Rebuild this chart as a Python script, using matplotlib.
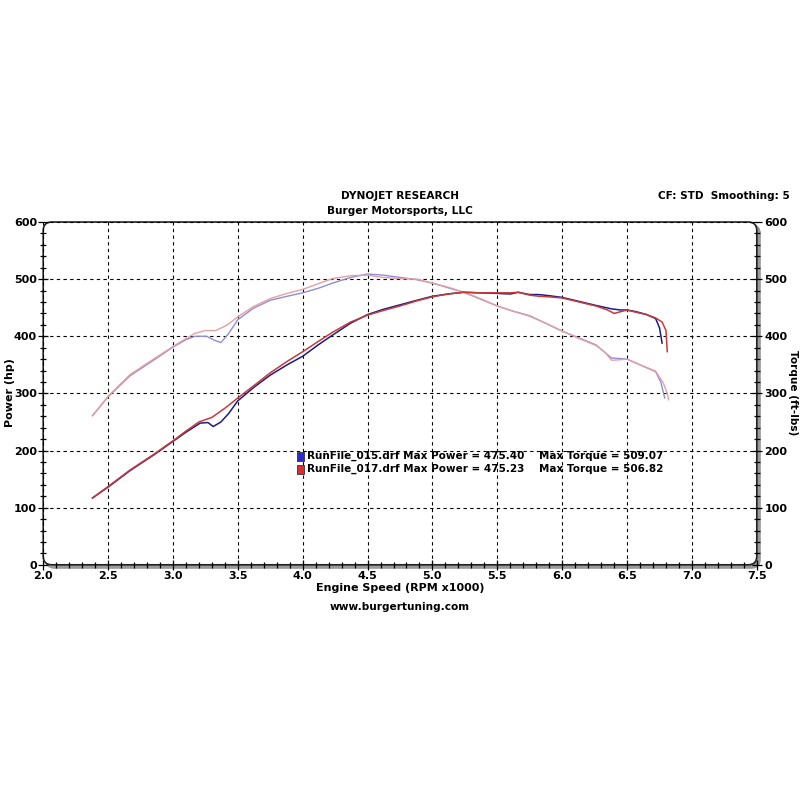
import numpy as np
import matplotlib
matplotlib.use("Agg")
import matplotlib.pyplot as plt
from matplotlib.patches import FancyBboxPatch, Rectangle
from matplotlib.ticker import MultipleLocator
import matplotlib.transforms as mtransforms

# --- data (rpm x1000) ---
rpm_hp_015 = [2.38, 2.5, 2.67, 2.85, 3.0, 3.1, 3.21, 3.27, 3.31, 3.37, 3.43, 3.5, 3.62, 3.75,
              3.88, 4.0, 4.12, 4.23, 4.37, 4.5, 4.62, 4.75, 4.88, 5.0, 5.12, 5.24, 5.37, 5.5,
              5.6, 5.66, 5.75, 5.82, 5.9, 6.0, 6.13, 6.26, 6.38, 6.45, 6.5, 6.57, 6.65, 6.72,
              6.75, 6.77]
hp_015 = [117, 136, 165, 192, 216, 232, 248, 249, 242, 250, 265, 287, 310, 332,
          350, 365, 385, 402, 423, 438, 447, 455, 463, 470, 474, 477, 476, 475,
          474, 477, 473, 473, 471, 468, 461, 454, 448, 446, 446, 443, 438, 431,
          415, 388]

rpm_hp_017 = [2.38, 2.5, 2.67, 2.85, 3.0, 3.1, 3.2, 3.3, 3.4, 3.5, 3.62, 3.75, 3.88, 4.0,
              4.12, 4.23, 4.37, 4.5, 4.62, 4.75, 4.88, 5.0, 5.12, 5.24, 5.37, 5.5, 5.6, 5.66,
              5.75, 5.82, 5.9, 6.0, 6.13, 6.26, 6.35, 6.4, 6.45, 6.5, 6.57, 6.65, 6.72, 6.77,
              6.8, 6.81]
hp_017 = [117, 137, 166, 193, 217, 234, 250, 258, 274, 292, 313, 336, 356, 373,
          391, 407, 425, 437, 445, 453, 462, 469, 474, 477, 476, 476, 476, 477,
          472, 470, 469, 467, 460, 453, 446, 440, 443, 446, 442, 438, 432, 425,
          410, 373]

rpm_tq_015 = [2.38, 2.5, 2.67, 2.85, 3.0, 3.1, 3.17, 3.26, 3.32, 3.37, 3.43, 3.5, 3.62, 3.75,
              3.88, 4.0, 4.12, 4.23, 4.37, 4.5, 4.62, 4.75, 4.88, 5.0, 5.12, 5.24, 5.37, 5.5,
              5.62, 5.75, 5.88, 6.0, 6.13, 6.26, 6.38, 6.5, 6.6, 6.72, 6.76, 6.79]
tq_015 = [261, 294, 331, 358, 381, 394, 400, 400, 393, 389, 405, 429, 449, 463,
          470, 476, 484, 493, 503, 509, 507, 503, 499, 493, 485, 477, 465, 453,
          444, 436, 422, 409, 397, 385, 362, 360, 350, 338, 320, 292]

rpm_tq_017 = [2.38, 2.5, 2.67, 2.85, 3.0, 3.1, 3.17, 3.25, 3.33, 3.42, 3.5, 3.62, 3.75, 3.88,
              4.0, 4.12, 4.23, 4.37, 4.5, 4.62, 4.75, 4.88, 5.0, 5.12, 5.24, 5.37, 5.5, 5.62,
              5.75, 5.88, 6.0, 6.13, 6.26, 6.33, 6.38, 6.45, 6.5, 6.6, 6.72, 6.78, 6.81, 6.82]
tq_017 = [261, 295, 333, 360, 382, 396, 405, 410, 410, 420, 434, 452, 466, 475,
          482, 492, 501, 506, 507, 503, 501, 500, 493, 486, 477, 466, 453, 444,
          435, 422, 409, 396, 384, 372, 358, 359, 360, 350, 339, 318, 300, 289]

runs = ["RunFile_015.drf", "RunFile_017.drf"]
max_power = ["475.40", "475.23"]
max_torque = ["509.07", "506.82"]

c_hp = ["#1c1c84", "#c83a3a"]
c_tq = ["#8e8ed8", "#e6a0a0"]
c_box = ["#2a2ad0", "#d83030"]

fig = plt.figure(figsize=(8, 8), dpi=100)
ax = fig.add_axes([0.054, 0.294, 0.892, 0.4285])
ax.set_xlim(2.0, 7.5)
ax.set_ylim(0, 600)
ax.patch.set_visible(False)
for s in ax.spines.values():
    s.set_visible(False)

# frame with rounded corners and grey shadow
asp = (0.892 * 800) / (0.4285 * 800)
shadow_tr = mtransforms.offset_copy(ax.transAxes, fig=fig, x=3, y=-3, units="dots")
shadow = FancyBboxPatch((0, 0), 1, 1, boxstyle="round,pad=0,rounding_size=0.012",
                        mutation_aspect=asp, transform=shadow_tr, facecolor="#9a9a9a",
                        edgecolor="#9a9a9a", lw=1.5, clip_on=False, zorder=0)
frame = FancyBboxPatch((0, 0), 1, 1, boxstyle="round,pad=0,rounding_size=0.012",
                       mutation_aspect=asp, transform=ax.transAxes, facecolor="white",
                       edgecolor="#222222", lw=1.2, clip_on=False, zorder=0.5)
ax.add_patch(shadow)
ax.add_patch(frame)

ax.grid(True, which="major", color="black", linestyle=(0, (3, 3)), linewidth=0.8)

ax.plot(rpm_tq_015, tq_015, color=c_tq[0], lw=1.0, zorder=3)
ax.plot(rpm_tq_017, tq_017, color=c_tq[1], lw=1.0, zorder=3)
ax.plot(rpm_hp_015, hp_015, color=c_hp[0], lw=1.1, zorder=3)
ax.plot(rpm_hp_017, hp_017, color=c_hp[1], lw=1.1, zorder=3)

ax.xaxis.set_minor_locator(MultipleLocator(0.1))
ax.yaxis.set_major_locator(MultipleLocator(100))
ax.yaxis.set_minor_locator(MultipleLocator(20))
ax.set_xticks(np.arange(2.0, 7.51, 0.5))
ax.set_xticklabels([f"{v:.1f}" for v in np.arange(2.0, 7.51, 0.5)])
ax.tick_params(which="major", direction="inout", length=7, width=0.9, labelsize=8, pad=1)
ax.tick_params(which="minor", direction="inout", length=5, width=0.9)
for lab in ax.get_xticklabels() + ax.get_yticklabels():
    lab.set_fontweight("bold")

ax2 = ax.twinx()
ax2.set_ylim(0, 600)
for s in ax2.spines.values():
    s.set_visible(False)
ax2.yaxis.set_major_locator(MultipleLocator(100))
ax2.yaxis.set_minor_locator(MultipleLocator(20))
ax2.tick_params(which="major", direction="inout", length=7, width=0.9, labelsize=8, pad=2)
ax2.tick_params(which="minor", direction="inout", length=5, width=0.9)
for lab in ax2.get_yticklabels():
    lab.set_fontweight("bold")

# legend block
for i, (run, mp, mt) in enumerate(zip(runs, max_power, max_torque)):
    y = 190 - i * 22.5
    ax.add_patch(Rectangle((3.958, y - 8), 0.05, 16, facecolor=c_box[i],
                           edgecolor="#333333", lw=0.6, zorder=4))
    ax.text(4.03, y, f"{run} Max Power = {mp}", fontsize=7.5, fontweight="bold",
            va="center", ha="left", zorder=5)
    ax.text(5.82, y, f"Max Torque = {mt}", fontsize=7.5, fontweight="bold",
            va="center", ha="left", zorder=5)

fig.text(0.5, 0.755, "DYNOJET RESEARCH", ha="center", va="center", fontsize=7.6, fontweight="bold")
fig.text(0.5, 0.736, "Burger Motorsports, LLC", ha="center", va="center", fontsize=7.6, fontweight="bold")
fig.text(0.9875, 0.755, "CF: STD  Smoothing: 5", ha="right", va="center", fontsize=7.6, fontweight="bold")
fig.text(0.5, 0.265, "Engine Speed (RPM x1000)", ha="center", va="center", fontsize=8, fontweight="bold")
fig.text(0.5, 0.241, "www.burgertuning.com", ha="center", va="center", fontsize=7.6, fontweight="bold")
fig.text(0.0125, 0.509, "Power (hp)", ha="center", va="center", rotation=90, fontsize=8, fontweight="bold")
fig.text(0.991, 0.509, "Torque (ft-lbs)", ha="center", va="center", rotation=-90, fontsize=7.6, fontweight="bold")

fig.savefig("out.png", dpi=100)
